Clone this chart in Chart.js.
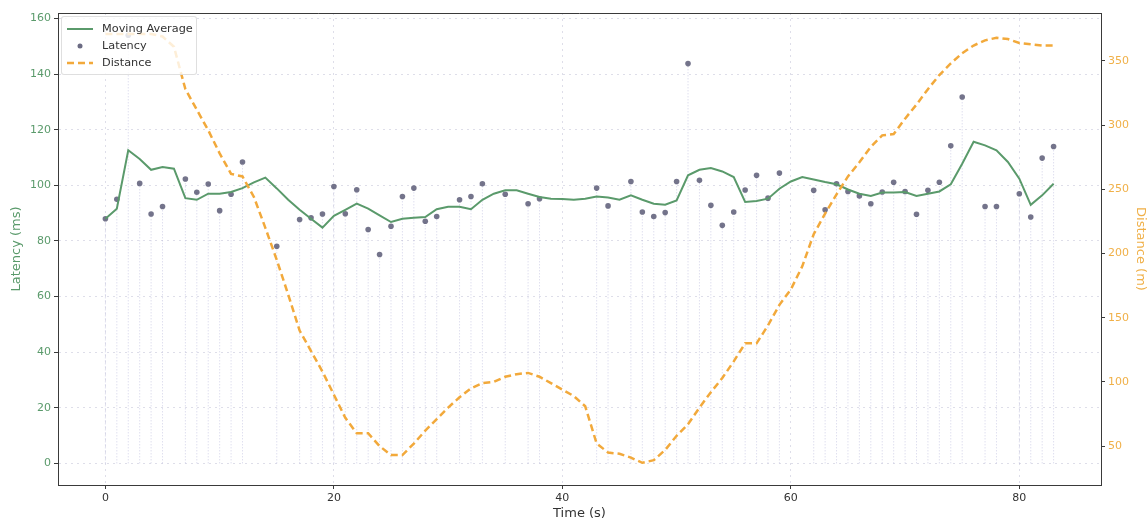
<!DOCTYPE html>
<html>
<head>
<meta charset="utf-8">
<script src="https://cdn.jsdelivr.net/npm/chart.js@4/dist/chart.umd.min.js"></script>
<style>
  html, body { margin: 0; padding: 0; background: #fff; }
  #wrap { position: relative; width: 1148px; height: 521px; }
  #legend {
    position: absolute; left: 61px; top: 16px;
    background: rgba(255,255,255,0.8);
    border: 1px solid rgba(215,215,215,0.8); border-radius: 3px;
    padding: 3px 3px 3px 5px;
    font: 11.3px 'DejaVu Sans', sans-serif; color: #333;
  }
  .row { display: flex; align-items: center; height: 17px; }
  .row svg { margin-right: 9px; }
</style>
</head>
<body>
<div id="wrap">
  <canvas id="latencyChart" width="1148" height="521"></canvas>
  <div id="legend">
    <div class="row"><svg width="26" height="10"><line x1="0" y1="5" x2="26" y2="5" stroke="#5a9a6b" stroke-width="2"/></svg>Moving Average</div>
    <div class="row"><svg width="26" height="10"><circle cx="13" cy="5" r="2.5" fill="rgba(70,70,100,0.8)"/></svg>Latency</div>
    <div class="row"><svg width="26" height="10"><line x1="0" y1="5" x2="26" y2="5" stroke="#f2a93b" stroke-width="2.5" stroke-dasharray="7,4"/></svg>Distance</div>
  </div>
</div>
<script>
// datos
const times = [0,1,2,3,4,5,6,7,8,9,10,11,12,13,14,15,16,17,18,19,20,21,22,23,24,25,26,27,28,29,30,31,32,33,34,35,36,37,38,39,40,41,
               42,43,44,45,46,47,48,49,50,51,52,53,54,55,56,57,58,59,60,61,62,63,64,65,66,67,68,69,70,71,72,73,74,75,76,77,78,79,80,81,82,83];

const latency = [88.0,95.0,154,100.7,89.7,92.4,null,102.3,97.5,100.5,90.9,96.8,108.4,null,null,78.1,null,87.7,88.3,89.7,
                 99.6,89.8,98.4,84.1,75.1,85.3,96.0,99.0,87.1,88.8,null,94.8,96.0,100.6,null,96.8,null,93.4,95.2,null,
                 null,null,null,99.0,92.6,null,101.4,90.4,88.8,90.2,101.4,143.8,101.8,92.8,85.6,90.4,98.3,103.6,95.4,104.4,
                 null,null,98.2,91.2,100.6,97.8,96.2,93.4,97.6,101.1,97.8,89.6,98.2,101.1,114.2,131.8,null,92.4,92.4,null,
                 97.0,88.6,109.8,114.0];

const movingAverage = [88.0,91.6,112.6,109.5,105.6,106.6,106.0,95.4,94.8,97.0,97.0,97.6,99.0,101.1,102.8,98.9,94.8,91.2,88.0,84.8,
                       89.0,91.2,93.4,91.6,89.2,86.8,88.0,88.3,88.6,91.4,92.3,92.3,91.4,94.8,97.0,98.2,98.2,97.0,95.8,95.2,
                       95.1,94.8,95.2,96.0,95.6,94.8,96.4,94.8,93.4,93.0,94.6,103.6,105.6,106.2,105.0,103.0,94.0,94.4,95.2,98.8,
                       101.4,103.0,102.1,101.2,100.4,98.5,97.0,96.2,97.4,97.4,97.6,96.2,97.0,97.8,100.4,107.8,115.7,114.4,112.6,108.4,
                       102.4,93.0,96.4,100.6];

const distance = [371,371,371,371,371,369,361,328,312,296,278,262,260,244,220,195,168,140,124,108,
                  90,72,60,60,50,43,43,52,62,71,80,88,95,99,100,104,106,107,104,99,
                  94,89,81,52,45,44,41,37,39,47,58,67,80,92,103,116,130,130,144,160,
                  172,190,215,231,246,260,271,283,292,293,305,316,328,339,348,356,362,366,368,367,
                  364,363,362,362];

const xTicks = [0, 20, 40, 60, 80];
const latencyTicks = [0, 20, 40, 60, 80, 100, 120, 140, 160];
const distanceTicks = [50, 100, 150, 200, 250, 300, 350];

const GREEN = '#5a9a6b';
const ORANGE = '#f2a93b';
const GRID = 'rgba(195,195,215,0.55)';
const SPINE = '#3a3a3a';

Chart.defaults.font.family = "'DejaVu Sans', sans-serif";

// tallos: de 0 al punto, separados con null
const stems = [];
times.forEach((t, i) => {
    if (latency[i] === null) return;
    stems.push({x: t, y: 0}, {x: t, y: latency[i]}, {x: t, y: null});
});

const frame = {
    id: 'frame',
    afterDraw(chart) {
        const {ctx, chartArea} = chart;
        ctx.save();
        ctx.strokeStyle = SPINE;
        ctx.lineWidth = 1;
        ctx.beginPath();
        ctx.moveTo(chartArea.left, chartArea.top + 0.5);
        ctx.lineTo(chartArea.right, chartArea.top + 0.5);
        ctx.stroke();
        ctx.restore();
    }
};

new Chart(document.getElementById('latencyChart'), {
    type: 'line',
    data: {
        datasets: [{
            label: 'Distance',
            data: times.map((t, i) => ({x: t, y: distance[i]})),
            yAxisID: 'y2',
            borderColor: ORANGE,
            borderWidth: 2.5,
            borderDash: [7, 4],
            pointRadius: 0,
            order: 0
        }, {
            label: 'Moving Average',
            data: times.map((t, i) => ({x: t, y: movingAverage[i]})),
            yAxisID: 'y',
            borderColor: GREEN,
            borderWidth: 2,
            pointRadius: 0,
            order: 1
        }, {
            label: 'Latency',
            data: times.map((t, i) => ({x: t, y: latency[i]})),
            yAxisID: 'y',
            showLine: false,
            pointRadius: 2.8,
            pointBackgroundColor: 'rgba(70,70,100,0.75)',
            pointBorderWidth: 0,
            order: 2
        }, {
            label: 'stems',
            data: stems,
            yAxisID: 'y',
            borderColor: 'rgba(185,185,220,0.65)',
            borderWidth: 1,
            borderDash: [1, 2],
            pointRadius: 0,
            spanGaps: false,
            order: 3
        }]
    },
    options: {
        responsive: false,
        animation: false,
        devicePixelRatio: 1,
        layout: { padding: { top: 13, left: 0, right: 0, bottom: 0 } },
        plugins: { legend: { display: false }, tooltip: { enabled: false } },
        scales: {
            x: {
                type: 'linear',
                min: -4.15,
                max: 87.15,
                afterBuildTicks: s => { s.ticks = xTicks.map(v => ({value: v})); },
                afterFit: s => { s.height = 36; },
                ticks: { color: '#333', font: { size: 11 }, padding: 3, maxRotation: 0 },
                grid: { color: GRID, tickColor: SPINE, tickLength: 4, tickBorderDash: [] },
                border: { color: SPINE, width: 1, dash: [2, 4] },
                title: { display: true, text: 'Time (s)', color: '#333', font: { size: 13 }, padding: { top: 0, bottom: 0 } }
            },
            y: {
                position: 'left',
                min: -7.8,
                max: 162,
                afterBuildTicks: s => { s.ticks = latencyTicks.map(v => ({value: v})); },
                afterFit: s => { s.width = 58; },
                ticks: { color: GREEN, font: { size: 11 }, padding: 3 },
                grid: { color: GRID, tickColor: SPINE, tickLength: 4, tickBorderDash: [] },
                border: { color: SPINE, width: 1, dash: [2, 4] },
                title: { display: true, text: 'Latency (ms)', color: GREEN, font: { size: 13 }, padding: { top: 9, bottom: 0 } }
            },
            y2: {
                position: 'right',
                min: 19.7,
                max: 387.3,
                afterBuildTicks: s => { s.ticks = distanceTicks.map(v => ({value: v})); },
                afterFit: s => { s.width = 47; },
                ticks: { color: '#f0b048', font: { size: 11 }, padding: 3 },
                grid: { drawOnChartArea: false, color: SPINE, tickLength: 4 },
                border: { color: SPINE, width: 1 },
                title: { display: true, text: 'Distance (m)', color: '#f0b048', font: { size: 13 }, padding: { top: 0, bottom: 0 } }
            }
        }
    },
    plugins: [frame]
});
</script>
</body>
</html>
